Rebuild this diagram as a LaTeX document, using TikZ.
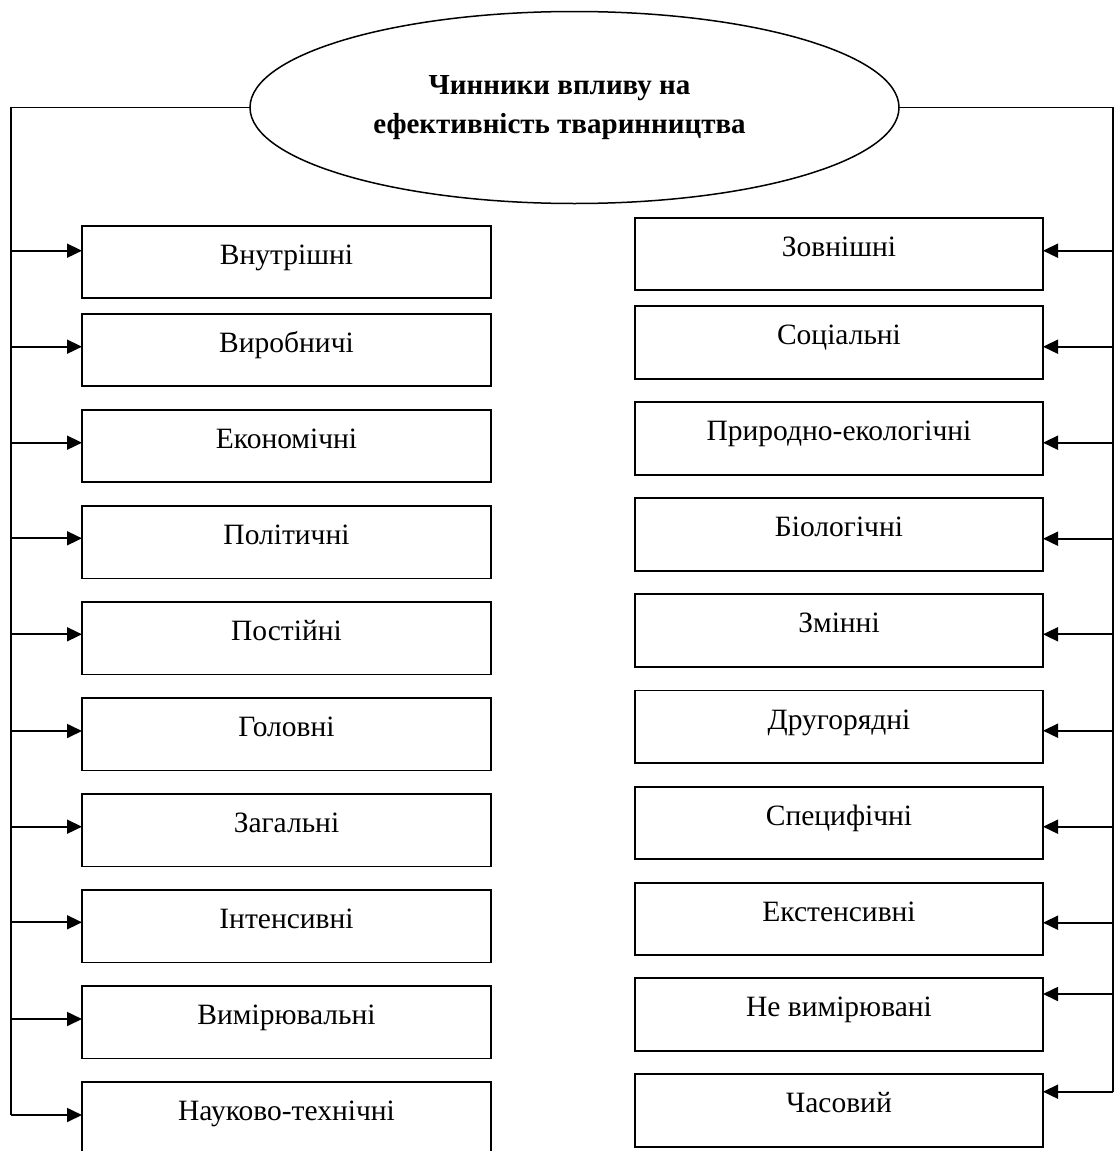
\documentclass[tikz,border=0pt]{standalone}
\usepackage{fontspec}
\setmainfont{Liberation Serif}
\usetikzlibrary{arrows.meta,shapes.geometric}
\tikzset{
  factor/.style={draw, rectangle, line width=1.8pt, inner sep=0pt, outer sep=0pt,
    minimum height=72.5pt, text height=38.5pt, text depth=34pt,
    font=\fontsize{29.5}{35}\selectfont, anchor=north west},
  trunk/.style={line width=1.6pt},
  arr/.style={line width=1.7pt, -{Triangle[length=15pt,width=14pt]}},
  hub/.style={draw, ellipse, line width=1.5pt, minimum width=649pt, minimum height=192pt,
    inner sep=0pt, outer sep=0pt, align=center,
    font=\bfseries\fontsize{29}{39.5}\selectfont}
}
\begin{document}
\begin{tikzpicture}[x=1pt,y=-1pt]
\useasboundingbox (0,0) rectangle (1114,1151);
\clip (0,0) rectangle (1114,1151);
\node[hub] (E) at (574.5,107.5) {Чинники впливу на\hspace*{30pt}\\ефективність тваринництва\hspace*{30pt}};
% left column
\foreach \t/\y/\a [count=\i] in {Внутрішні/225.7/250.7, Виробничі/313.7/346.7, Економічні/409.7/442.7,
  Політичні/506/538.3, Постійні/602/634.3, Головні/698/731, Загальні/794/826.7,
  Інтенсивні/890/922.3, Вимірювальні/986/1019, Науково-технічні/1082.3/1115}{
  \node[factor, minimum width=409pt] (L\i) at (82,\y) {\t};
  \coordinate (la\i) at (11,\a);
  \draw[arr] (la\i) -- (la\i -| L\i.west);
}
% right column
\foreach \t/\y/\a [count=\i] in {Зовнішні/217.7/250.7, Соціальні/306.3/346.7, Природно-екологічні/402.3/442.7,
  Біологічні/498.3/538.7, Змінні/594.3/634.3, Другорядні/690.5/730.7, Специфічні/786.7/826.7,
  Екстенсивні/882.7/922.7, Не вимірювані/978.3/994, Часовий/1074.3/1091.7}{
  \node[factor, minimum width=408pt] (R\i) at (635,\y) {\t};
  \coordinate (ra\i) at (1113,\a);
  \draw[arr] (ra\i) -- (ra\i -| R\i.east);
}
\coordinate (lend) at (11,1115);
\coordinate (rend) at (1113,1091.7);
\draw[trunk] (E.west) -| (lend);
\draw[trunk] (E.east) -| (rend);
\end{tikzpicture}
\end{document}
